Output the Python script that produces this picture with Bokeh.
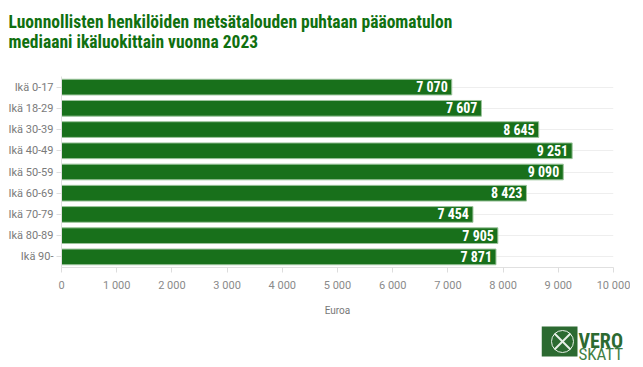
from bokeh.plotting import figure
from bokeh.models import Range1d, FactorRange, FixedTicker, ColumnDataSource, LabelSet, Spacer
from bokeh.layouts import column, row
from bokeh.embed import file_html
from bokeh.resources import INLINE
from bokeh.core.properties import value

title_lines = ["Luonnollisten henkilöiden metsätalouden puhtaan pääomatulon",
               "mediaani ikäluokittain vuonna 2023"]
categories = ["Ikä 0-17", "Ikä 18-29", "Ikä 30-39", "Ikä 40-49", "Ikä 50-59",
              "Ikä 60-69", "Ikä 70-79", "Ikä 80-89", "Ikä 90-"]
values = [7070, 7607, 8645, 9251, 9090, 8423, 7454, 7905, 7871]
x_ticks = [0, 1000, 2000, 3000, 4000, 5000, 6000, 7000, 8000, 9000, 10000]
x_tick_labels = ["0", "1 000", "2 000", "3 000", "4 000", "5 000", "6 000",
                 "7 000", "8 000", "9 000", "10 000"]
x_label = "Euroa"
logo_top = "VERO"
logo_bottom = "SKATT"

TF = "Roboto Condensed"
GREEN = "#18701b"
TITLE_GREEN = "#107010"
LOGO = "#2c6a31"

def fmt(v):
    return f"{v:,}".replace(",", " ")

def bare(fig):
    fig.axis.visible = False
    fig.grid.visible = False
    fig.outline_line_color = None
    return fig

# ---- title strip
tf = bare(figure(width=600, height=68, x_range=Range1d(0, 600), y_range=Range1d(68, 0),
                 output_backend="svg", toolbar_location=None, min_border=0))
tf.text(x=[0, 0], y=[21, 41], text=title_lines, text_font=value(TF), text_font_style="bold",
        text_font_size="17.5px", text_color=TITLE_GREEN, text_baseline="alphabetic")

# ---- main chart
factors = categories[::-1]
p = figure(width=630, height=250, y_range=FactorRange(*factors), x_range=Range1d(0, 10000),
           output_backend="svg", toolbar_location=None,
           min_border_left=61, min_border_right=17, min_border_top=8, min_border_bottom=49)
p.outline_line_color = None
src = ColumnDataSource(dict(cat=categories, val=values, lab=[fmt(v) for v in values]))
p.hbar(y="cat", right="val", left=0, height=0.74, source=src, fill_color=GREEN,
       line_color="#9cc49c", line_width=1)
p.add_layout(LabelSet(x="val", y="cat", text="lab", source=src, x_offset=-4,
                      text_align="right", text_baseline="middle", text_color="white",
                      text_font=value(TF), text_font_style="bold", text_font_size="14px"))
p.xgrid.visible = False
p.ygrid.grid_line_color = "#eeeeee"
p.xaxis.ticker = FixedTicker(ticks=x_ticks)
p.xaxis.major_label_overrides = {t_: l for t_, l in zip(x_ticks, x_tick_labels)}
p.xaxis.axis_label = x_label
for ax in (p.xaxis, p.yaxis):
    ax.axis_line_color = "#e0e0e0"
    ax.major_tick_line_color = "#dddddd"
    ax.major_tick_in = 0
    ax.major_tick_out = 5
    ax.minor_tick_line_color = None
    ax.major_label_text_font = "Roboto"
    ax.major_label_text_font_style = "normal"
p.xaxis.major_label_text_color = "#8a8a8a"
p.xaxis.major_label_text_font_size = "11px"
p.xaxis.major_label_standoff = 6
p.xaxis.axis_label_text_font = "Roboto"
p.xaxis.axis_label_text_font_style = "normal"
p.xaxis.axis_label_text_font_size = "10px"
p.xaxis.axis_label_text_color = "#777777"
p.xaxis.axis_label_standoff = 10
p.yaxis.major_label_text_color = "#7a7a7a"
p.yaxis.major_label_text_font_size = "11px"
p.yaxis.major_label_standoff = 3

# ---- logo
lg = bare(figure(width=96, height=48, x_range=Range1d(0, 96), y_range=Range1d(48, 0),
                 output_backend="svg", toolbar_location=None, min_border=0))
lg.quad(left=[0], right=[36], top=[8], bottom=[38], fill_color=LOGO, line_color=None)
lg.circle(x=[21], y=[23], radius=11, fill_color=None, line_color="#e8f0e8", line_width=1)
lg.segment(x0=[13, 29], y0=[15, 15], x1=[29, 13], y1=[31, 31], line_color="#e8f0e8", line_width=2)
lg.text(x=[37], y=[22], text=[logo_top], text_font=value(TF), text_font_style="bold",
        text_font_size="20px", text_color=LOGO, text_baseline="alphabetic")
lg.text(x=[37], y=[35], text=[logo_bottom], text_font=value(TF),
        text_font_size="17px", text_color="#3f7f44", text_baseline="alphabetic")

layout = column(row(Spacer(width=8, height=68), tf), p, row(Spacer(width=541, height=48), lg))
open("out.html", "w").write(file_html(layout, INLINE))
